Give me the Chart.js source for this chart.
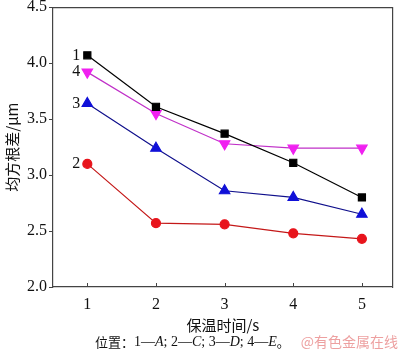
<!DOCTYPE html>
<html>
<head>
<meta charset="utf-8">
<script src="https://cdn.jsdelivr.net/npm/chart.js@4"></script>
<style>
  html, body { margin: 0; padding: 0; background: #fff; }
  canvas { display: block; }
</style>
</head>
<body>
<canvas id="chart" width="400" height="352"></canvas>
<script>
// 保温时间 (s)
const times = [1, 2, 3, 4, 5];
// 均方根差 (μm), 位置 1—A, 2—C, 3—D, 4—E
const posA = [4.07, 3.61, 3.37, 3.11, 2.80];
const posC = [3.10, 2.57, 2.56, 2.48, 2.43];
const posD = [3.64, 3.24, 2.86, 2.80, 2.65];
const posE = [3.92, 3.55, 3.28, 3.24, 3.24];
const yTicks = [2.0, 2.5, 3.0, 3.5, 4.0, 4.5];

const SERIF = '"Liberation Serif", "Times New Roman", serif';
const CJK = '"Noto Sans CJK SC", sans-serif';

function pts(arr) { return arr.map((v, i) => ({ x: times[i], y: v })); }

// 在每条曲线起点左侧写编号，并画坐标轴标题、注释
const labelsPlugin = {
  id: 'labels',
  afterDraw(chart) {
    const ctx = chart.ctx;
    const xs = chart.scales.x, ys = chart.scales.y;
    const area = chart.chartArea;
    ctx.save();
    // x 轴刻度线（朝内）
    ctx.strokeStyle = '#444';
    ctx.lineWidth = 1;
    times.forEach(t => {
      const px = Math.round(xs.getPixelForValue(t)) + 0.5;
      ctx.beginPath();
      ctx.moveTo(px, area.bottom);
      ctx.lineTo(px, area.bottom - 4);
      ctx.stroke();
    });
    // 曲线编号
    ctx.fillStyle = '#111';
    ctx.font = '16px ' + SERIF;
    ctx.textAlign = 'right';
    ctx.textBaseline = 'middle';
    const nums = [['1', posA], ['2', posC], ['3', posD], ['4', posE]];
    nums.forEach(([n, arr]) => {
      const px = xs.getPixelForValue(times[0]);
      const py = ys.getPixelForValue(arr[0]);
      ctx.fillText(n, px - 7, py);
    });
    // y 轴标题
    ctx.save();
    ctx.translate(12, (area.top + area.bottom) / 2);
    ctx.rotate(-Math.PI / 2);
    ctx.textAlign = 'center';
    ctx.font = '15px ' + CJK;
    ctx.fillText('均方根差/μm', 0, 0);
    ctx.restore();
    // x 轴标题
    ctx.textAlign = 'center';
    ctx.font = '15px ' + CJK;
    ctx.fillText('保温时间/s', (area.left + area.right) / 2, 325);
    // 注释
    ctx.textAlign = 'left';
    let x = 95;
    const y = 342;
    const parts = [
      ['位置：', '13px ' + CJK],
      ['1—', '14px ' + SERIF], ['A', 'italic 14px ' + SERIF], ['; 2—', '14px ' + SERIF],
      ['C', 'italic 14px ' + SERIF], ['; 3—', '14px ' + SERIF], ['D', 'italic 14px ' + SERIF],
      ['; 4—', '14px ' + SERIF], ['E', 'italic 14px ' + SERIF], ['。', '13px ' + CJK]
    ];
    parts.forEach(([s, f]) => {
      ctx.font = f;
      ctx.fillText(s, x, y);
      x += ctx.measureText(s).width;
    });
    // 水印
    ctx.fillStyle = 'rgba(230,120,120,0.7)';
    ctx.font = '14px ' + CJK;
    ctx.textAlign = 'right';
    ctx.fillText('@有色金属在线', 398, 342);
    ctx.restore();
  }
};

function series(data, color, lineColor, style, radius, rotation) {
  return {
    data: pts(data),
    borderColor: lineColor,
    backgroundColor: color,
    pointBackgroundColor: color,
    pointBorderColor: color,
    pointStyle: style,
    pointRadius: radius,
    pointRotation: rotation || 0,
    borderWidth: 1.2,
    tension: 0,
  };
}

new Chart(document.getElementById('chart'), {
  type: 'line',
  data: {
    datasets: [
      series(posA, '#000000', '#000000', 'rect', 5),
      series(posC, '#e8141c', '#c41818', 'circle', 4.5),
      series(posD, '#1010d8', '#10108c', 'triangle', 6),
      series(posE, '#f020f0', '#c030c8', 'triangle', 6, 180),
    ],
  },
  plugins: [labelsPlugin],
  options: {
    responsive: false,
    animation: false,
    layout: { padding: { left: 0, right: 1, top: 2, bottom: 0 } },
    plugins: { legend: { display: false }, tooltip: { enabled: false } },
    scales: {
      x: {
        type: 'linear',
        min: 0.5,
        max: 5.45,
        afterBuildTicks(scale) { scale.ticks = times.map(v => ({ value: v })); },
        afterFit(scale) { scale.height = 65; scale.paddingRight = 0; scale.paddingLeft = 0; },
        border: { display: true, color: '#444', width: 1.2 },
        grid: { display: false, drawTicks: false },
        ticks: {
          color: '#111',
          padding: 8,
          font: { family: SERIF, size: 16 },
          callback: v => String(v),
        },
      },
      y: {
        min: 2.0,
        max: 4.5,
        afterBuildTicks(scale) { scale.ticks = yTicks.map(v => ({ value: v })); },
        afterFit(scale) { scale.width = 53; scale.paddingTop = 0; scale.paddingBottom = 0; },
        border: { display: true, color: '#444', width: 1.2 },
        grid: { drawOnChartArea: false, drawTicks: true, tickLength: 4, color: '#444' },
        ticks: {
          color: '#111',
          padding: 2,
          font: { family: SERIF, size: 16 },
          callback: v => v.toFixed(1),
        },
      },
      x2: {
        type: 'linear', position: 'top', display: true,
        afterFit(scale) { scale.height = 0; },
        border: { display: true, color: '#444', width: 1.2 },
        grid: { display: false, drawTicks: false },
        ticks: { display: false },
      },
      y2: {
        type: 'linear', position: 'right', display: true,
        afterFit(scale) { scale.width = 0; },
        border: { display: true, color: '#444', width: 1.2 },
        grid: { display: false, drawTicks: false },
        ticks: { display: false },
      },
    },
  },
});
</script>
</body>
</html>
